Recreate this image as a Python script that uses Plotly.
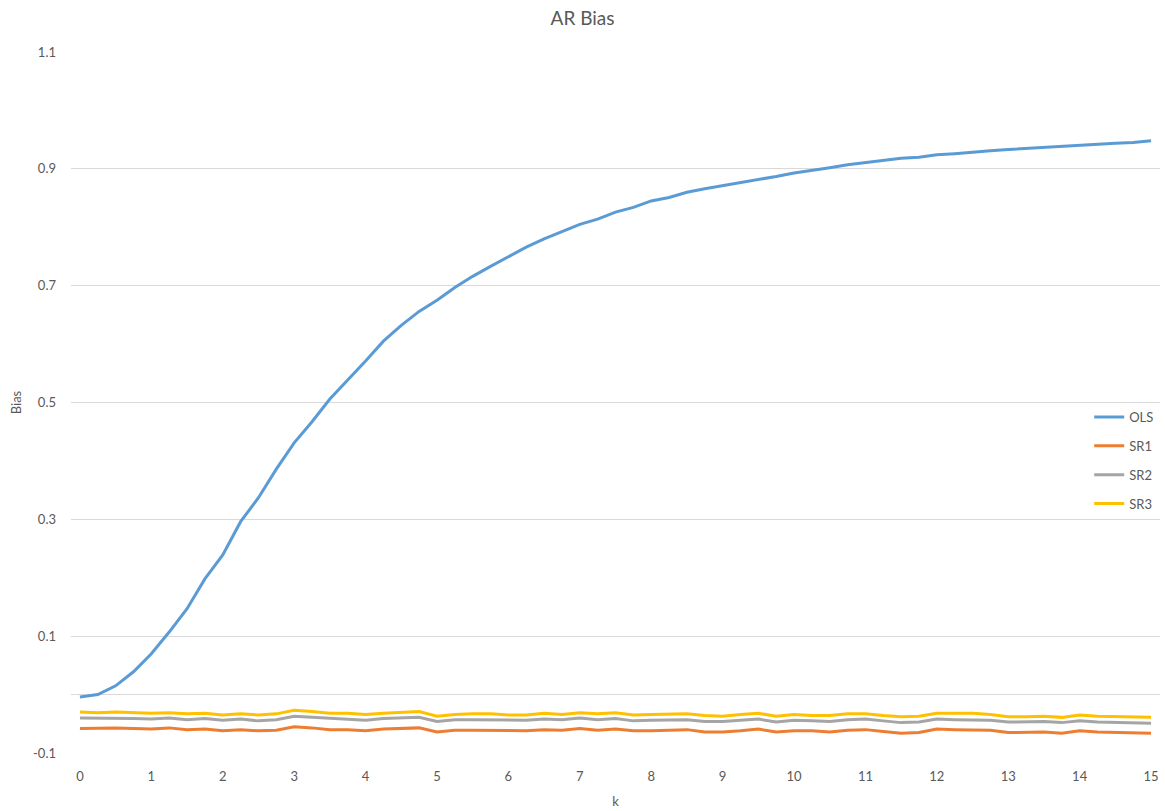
import plotly.graph_objects as go

k_values = [i * 0.25 for i in range(61)]

ols = [-0.004, 0.000, 0.015, 0.039, 0.070, 0.107, 0.147, 0.198, 0.239, 0.296,
       0.337, 0.386, 0.431, 0.467, 0.506, 0.538, 0.571, 0.605, 0.632, 0.656,
       0.675, 0.697, 0.716, 0.733, 0.749, 0.766, 0.780, 0.792, 0.805, 0.814,
       0.826, 0.834, 0.845, 0.851, 0.860, 0.866, 0.871, 0.877, 0.882, 0.887,
       0.893, 0.897, 0.902, 0.907, 0.911, 0.915, 0.918, 0.920, 0.924, 0.926,
       0.929, 0.931, 0.933, 0.935, 0.937, 0.939, 0.940, 0.942, 0.944, 0.945,
       0.948]

sr1 = [-0.058, -0.057, -0.057, -0.058, -0.059, -0.057, -0.060, -0.059, -0.062, -0.060,
       -0.062, -0.061, -0.055, -0.057, -0.060, -0.060, -0.062, -0.059, -0.058, -0.057,
       -0.064, -0.061, -0.061, -0.061, -0.062, -0.062, -0.060, -0.061, -0.058, -0.061,
       -0.059, -0.062, -0.062, -0.061, -0.060, -0.064, -0.064, -0.062, -0.059, -0.064,
       -0.062, -0.062, -0.064, -0.061, -0.060, -0.063, -0.066, -0.065, -0.059, -0.060,
       -0.061, -0.061, -0.065, -0.064, -0.064, -0.066, -0.062, -0.064, -0.065, -0.065,
       -0.066]

sr2 = [-0.040, -0.040, -0.040, -0.041, -0.042, -0.040, -0.043, -0.041, -0.044, -0.042,
       -0.045, -0.043, -0.037, -0.039, -0.041, -0.042, -0.044, -0.041, -0.040, -0.039,
       -0.046, -0.043, -0.043, -0.043, -0.044, -0.044, -0.042, -0.043, -0.040, -0.043,
       -0.041, -0.045, -0.044, -0.044, -0.043, -0.046, -0.046, -0.044, -0.042, -0.047,
       -0.044, -0.045, -0.046, -0.043, -0.042, -0.045, -0.048, -0.047, -0.042, -0.043,
       -0.043, -0.044, -0.047, -0.047, -0.046, -0.048, -0.045, -0.047, -0.048, -0.048,
       -0.049]

sr3 = [-0.030, -0.031, -0.030, -0.031, -0.032, -0.031, -0.033, -0.032, -0.035, -0.033,
       -0.035, -0.033, -0.027, -0.029, -0.032, -0.032, -0.034, -0.032, -0.030, -0.029,
       -0.037, -0.034, -0.033, -0.033, -0.035, -0.035, -0.032, -0.034, -0.031, -0.033,
       -0.031, -0.035, -0.034, -0.034, -0.033, -0.036, -0.037, -0.034, -0.032, -0.037,
       -0.034, -0.036, -0.036, -0.033, -0.033, -0.036, -0.038, -0.037, -0.032, -0.032,
       -0.032, -0.034, -0.038, -0.038, -0.037, -0.039, -0.035, -0.037, -0.038, -0.039,
       -0.039]

x_ticks = list(range(0, 16))
y_ticks = [-0.1, 0.1, 0.3, 0.5, 0.7, 0.9, 1.1]
y_tick_labels = ["-0.1", "0.1", "0.3", "0.5", "0.7", "0.9", "1.1"]

series = [("OLS", ols, "#5B9BD5"), ("SR1", sr1, "#ED7D31"),
          ("SR2", sr2, "#A5A5A5"), ("SR3", sr3, "#FFC000")]

FONT = "Lato, 'Open Sans', sans-serif"

fig = go.Figure()
for name, vals, color in series:
    fig.add_trace(go.Scatter(x=k_values, y=vals, mode="lines", name=name,
                             legendgroup=name,
                             line=dict(color=color, width=3, shape="linear")))

W, H = 1165, 811
fig.update_layout(
    width=W, height=H,
    paper_bgcolor="white", plot_bgcolor="white",
    margin=dict(l=71, r=5, t=52, b=58, autoexpand=False),
    font=dict(family=FONT, size=13, color="#595959"),
    title=dict(text="AR Bias", x=0.5, xref="container", xanchor="center",
               y=1 - 18 / H, yref="container", yanchor="middle",
               font=dict(family=FONT, size=19, color="#595959")),
    showlegend=True,
    legend=dict(x=0.935, y=0.5008, xanchor="left", yanchor="top",
                traceorder="grouped", tracegroupgap=9,
                font=dict(family=FONT, size=13, color="#595959"),
                bgcolor="rgba(0,0,0,0)", itemwidth=30),
    xaxis=dict(range=[-0.125, 15.125], tickmode="array", tickvals=x_ticks,
               ticktext=[str(v) for v in x_ticks], automargin=False,
               showgrid=False, zeroline=False, showline=False, ticks="",
               ticklabelstandoff=14,
               title=dict(text="k", standoff=13, font=dict(size=13, color="#595959"))),
    yaxis=dict(range=[-0.1, 1.1], tickmode="array", tickvals=y_ticks,
               ticktext=y_tick_labels, showgrid=True, gridcolor="#D9D9D9", gridwidth=1,
               zeroline=True, zerolinecolor="#D9D9D9", zerolinewidth=1, automargin=False,
               showline=False, ticks="", ticklabelstandoff=14,
               title=dict(text="Bias", standoff=8, font=dict(size=13, color="#595959"))),
)

fig.write_html("out.html", config={"displayModeBar": False},
               post_script="document.body.style.margin='0';document.body.style.overflow='hidden';")
